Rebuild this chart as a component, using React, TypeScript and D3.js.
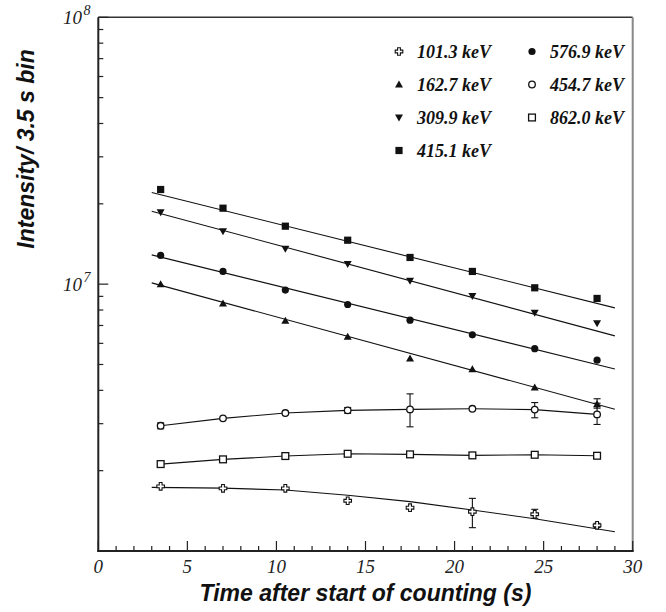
import React from "react";
import * as d3 from "d3";

// ---- data ----
const times = [3.5, 7, 10.5, 14, 17.5, 21, 24.5, 28];
const e101 = [1.747e6, 1.717e6, 1.717e6, 1.543e6, 1.453e6, 1.404e6, 1.373e6, 1.248e6];
const e162 = [1.0e7, 8.47e6, 7.29e6, 6.35e6, 5.27e6, 4.8e6, 4.1e6, 3.55e6];
const e309 = [1.861e7, 1.579e7, 1.356e7, 1.191e7, 1.029e7, 9.02e6, 7.81e6, 7.13e6];
const e415 = [2.263e7, 1.926e7, 1.649e7, 1.461e7, 1.259e7, 1.116e7, 9.69e6, 8.84e6];
const e576 = [1.281e7, 1.116e7, 9.5e6, 8.39e6, 7.33e6, 6.46e6, 5.73e6, 5.19e6];
const e454 = [2.945e6, 3.141e6, 3.288e6, 3.365e6, 3.394e6, 3.411e6, 3.388e6, 3.25e6];
const e862 = [2.117e6, 2.205e6, 2.269e6, 2.314e6, 2.302e6, 2.282e6, 2.294e6, 2.275e6];

type Err = [number, number] | null;
const err101: Err[] = [null, null, null, null, null, [1.223e6, 1.575e6], [1.326e6, 1.433e6], [1.225e6, 1.27e6]];
const err162: Err[] = [null, null, null, null, null, null, null, [3.43e6, 3.72e6]];
const err454: Err[] = [[2.87e6, 3.02e6], null, null, [3.28e6, 3.45e6], [2.92e6, 3.88e6], null, [3.157e6, 3.6e6], [2.98e6, 3.58e6]];

// exponential fits (start / end of fit range)
const fitX = [3, 29];
const fit162 = [1.011e7, 3.4e6];
const fit309 = [1.877e7, 6.4e6];
const fit415 = [2.205e7, 8.15e6];
const fit576 = [1.287e7, 4.81e6];
// growth-decay fit for 101.3 keV
const fit101X = [3, 7, 10.5, 14, 17.5, 21, 24.5, 29];
const fit101 = [1.731e6, 1.72e6, 1.692e6, 1.617e6, 1.531e6, 1.424e6, 1.321e6, 1.181e6];

const xTickLabels = ["0", "5", "10", "15", "20", "25", "30"];
const yLabelExps = [7, 8];

const legendCol1 = [
  { label: "101.3 keV", marker: "plus" },
  { label: "162.7 keV", marker: "triUp" },
  { label: "309.9 keV", marker: "triDown" },
  { label: "415.1 keV", marker: "squareFilled" },
];
const legendCol2 = [
  { label: "576.9 keV", marker: "circleFilled" },
  { label: "454.7 keV", marker: "circleOpen" },
  { label: "862.0 keV", marker: "squareOpen" },
];

// ---- layout ----
const W = 666, H = 612;
const L = 98.3, R = 632.7, T = 17.3, B = 551;

function Marker({ type, x, y }: { type: string; x: number; y: number }) {
  const t = `translate(${x},${y})`;
  switch (type) {
    case "plus": {
      const a = 1.4, l = 3.8;
      const d = `M${-a},${-l}L${a},${-l}L${a},${-a}L${l},${-a}L${l},${a}L${a},${a}L${a},${l}L${-a},${l}L${-a},${a}L${-l},${a}L${-l},${-a}L${-a},${-a}Z`;
      return <path d={d} transform={t} fill="white" stroke="#111" strokeWidth={1.1} />;
    }
    case "triUp":
      return <path d="M0,-4L4,3L-4,3Z" transform={t} fill="#111" />;
    case "triDown":
      return <path d="M0,4L4,-3L-4,-3Z" transform={t} fill="#111" />;
    case "squareFilled":
      return <rect x={x - 3.6} y={y - 3.6} width={7.2} height={7.2} fill="#111" />;
    case "circleFilled":
      return <circle cx={x} cy={y} r={3.6} fill="#111" />;
    case "circleOpen":
      return <circle cx={x} cy={y} r={3.3} fill="white" stroke="#111" strokeWidth={1.3} />;
    case "squareOpen":
      return <rect x={x - 3.4} y={y - 3.4} width={6.8} height={6.8} fill="white" stroke="#111" strokeWidth={1.3} />;
    default:
      return null;
  }
}

export default function App() {
  const x = d3.scaleLinear().domain([0, 30]).range([L, R]);
  const y = d3.scaleLog().domain([1e6, 1e8]).range([B, T]);

  const line = d3.line<[number, number]>().x((d) => x(d[0])).y((d) => y(d[1]));
  const smooth = d3
    .line<[number, number]>()
    .x((d) => x(d[0]))
    .y((d) => y(d[1]))
    .curveMonotoneX
    ? d3.line<[number, number]>().x((d) => x(d[0])).y((d) => y(d[1])).curve(d3.curveMonotoneX)
    : line;

  const pairs = (xs: number[], vs: number[]) => xs.map((xx, i) => [xx, vs[i]] as [number, number]);

  const fits = [fit162, fit309, fit415, fit576].map((f) => line(pairs(fitX, f)) || "");
  const curves = [
    smooth(pairs(fit101X, fit101)) || "",
    smooth(pairs(times, e454)) || "",
    smooth(pairs(times, e862)) || "",
  ];

  const series = [
    { v: e101, m: "plus", err: err101 },
    { v: e162, m: "triUp", err: err162 },
    { v: e309, m: "triDown", err: null },
    { v: e415, m: "squareFilled", err: null },
    { v: e576, m: "circleFilled", err: null },
    { v: e454, m: "circleOpen", err: err454 },
    { v: e862, m: "squareOpen", err: null },
  ];

  const xMinor = x.ticks(30);
  const yMinor = y.ticks();

  const serif = "'Liberation Serif', 'Times New Roman', serif";
  const sans = "'Liberation Sans', Arial, sans-serif";

  return (
    <svg width={W} height={H} style={{ position: "absolute", left: 0, top: 0, background: "white" }}>
      <rect x={0} y={0} width={W} height={H} fill="white" />
      {/* frame */}
      <line x1={L} y1={T} x2={R} y2={T} stroke="#333" strokeWidth={1.4} />
      <line x1={R} y1={T} x2={R} y2={B} stroke="#888" strokeWidth={2} />
      <line x1={L} y1={T} x2={L} y2={B + 1} stroke="#222" strokeWidth={2} />
      <line x1={L - 1} y1={B} x2={R + 1} y2={B} stroke="#222" strokeWidth={2} />

      {/* x ticks */}
      {xMinor.map((t) => {
        const major = t % 5 === 0;
        return (
          <line key={"xt" + t} x1={x(t)} x2={x(t)} y1={B} y2={B - (major ? 10 : 5)} stroke="#222" strokeWidth={1.2} />
        );
      })}
      {xTickLabels.map((s) => (
        <text key={"xl" + s} x={x(+s)} y={573} textAnchor="middle" fontFamily={serif} fontStyle="italic" fontSize={19} fill="#222">
          {s}
        </text>
      ))}

      {/* y ticks */}
      {yMinor.map((t, i) => {
        const major = Math.abs(Math.log10(t) - Math.round(Math.log10(t))) < 1e-9;
        return (
          <line key={"yt" + i} x1={L} x2={L + (major ? 10 : 5)} y1={y(t)} y2={y(t)} stroke="#222" strokeWidth={1.2} />
        );
      })}
      {yLabelExps.map((e) => (
        <g key={"yl" + e}>
          <text x={82} y={y(Math.pow(10, e)) + 7} textAnchor="end" fontFamily={serif} fontStyle="italic" fontSize={19} fill="#222">
            10
          </text>
          <text x={83.5} y={y(Math.pow(10, e)) - 2} fontFamily={serif} fontStyle="italic" fontSize={14} fill="#222">
            {e}
          </text>
        </g>
      ))}

      {/* titles */}
      <text x={(L + R) / 2} y={601} textAnchor="middle" fontFamily={sans} fontStyle="italic" fontWeight="bold" fontSize={23} fill="#111">
        Time after start of counting (s)
      </text>
      <text transform={`translate(34,149) rotate(-90)`} textAnchor="middle" fontFamily={sans} fontStyle="italic" fontWeight="bold" fontSize={23} fill="#111">
        Intensity/ 3.5 s bin
      </text>

      {/* fit lines */}
      {fits.map((d, i) => (
        <path key={"f" + i} d={d} fill="none" stroke="#111" strokeWidth={1.1} />
      ))}
      {curves.map((d, i) => (
        <path key={"c" + i} d={d} fill="none" stroke="#111" strokeWidth={1.1} />
      ))}

      {/* error bars */}
      {series.map((s, si) =>
        s.err
          ? s.err.map((e, i) =>
              e ? (
                <g key={`e${si}-${i}`} stroke="#111" strokeWidth={1.1}>
                  <line x1={x(times[i])} x2={x(times[i])} y1={y(e[0])} y2={y(e[1])} />
                  <line x1={x(times[i]) - 3.5} x2={x(times[i]) + 3.5} y1={y(e[0])} y2={y(e[0])} />
                  <line x1={x(times[i]) - 3.5} x2={x(times[i]) + 3.5} y1={y(e[1])} y2={y(e[1])} />
                </g>
              ) : null
            )
          : null
      )}

      {/* markers */}
      {series.map((s, si) =>
        s.v.map((v, i) => <Marker key={`m${si}-${i}`} type={s.m} x={x(times[i])} y={y(v)} />)
      )}

      {/* legend */}
      {legendCol1.map((l, i) => (
        <g key={"lg1" + i}>
          <Marker type={l.marker} x={399} y={51.5 + i * 33} />
          <text x={417} y={57.5 + i * 33} fontFamily={serif} fontStyle="italic" fontWeight="bold" fontSize={18} fill="#111">
            {l.label}
          </text>
        </g>
      ))}
      {legendCol2.map((l, i) => (
        <g key={"lg2" + i}>
          <Marker type={l.marker} x={532} y={51.5 + i * 33} />
          <text x={550} y={57.5 + i * 33} fontFamily={serif} fontStyle="italic" fontWeight="bold" fontSize={18} fill="#111">
            {l.label}
          </text>
        </g>
      ))}
    </svg>
  );
}
